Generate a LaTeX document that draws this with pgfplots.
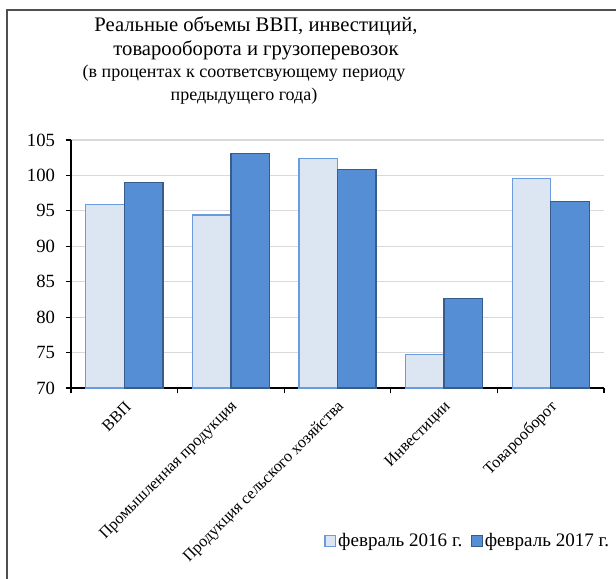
\documentclass[border=0pt]{standalone}
\usepackage{pgfplots}
\pgfplotsset{compat=1.18}
\usepackage{fontspec}
\setmainfont{Liberation Serif}
\definecolor{lightfill}{RGB}{220,230,242}
\definecolor{lightedge}{RGB}{106,155,222}
\definecolor{darkfill}{RGB}{85,142,213}
\definecolor{darkedge}{RGB}{56,93,138}
\definecolor{gridgray}{RGB}{217,217,217}
\definecolor{framegray}{RGB}{80,80,80}
\begin{document}
\begin{tikzpicture}
\useasboundingbox (0,0) rectangle (462pt,433.5pt);
\clip (0,0) rectangle (462pt,433.5pt);
\draw[framegray, line width=0.8pt] (5.25pt,-10pt) -- (5.25pt,426pt) -- (480pt,426pt);
\node[font=\fontsize{15.5}{18}\selectfont, anchor=base, inner sep=0pt] at (192pt,410pt) {Реальные объемы ВВП, инвестиций,};
\node[font=\fontsize{15.5}{18}\selectfont, anchor=base, inner sep=0pt] at (192pt,391.5pt) {товарооборота и грузоперевозок};
\node[font=\fontsize{13.5}{16}\selectfont, anchor=base, inner sep=0pt] at (183pt,375pt) {(в процентах к соответсвующему периоду};
\node[font=\fontsize{13.5}{16}\selectfont, anchor=base, inner sep=0pt] at (183pt,358pt) {предыдущего года)};
\begin{axis}[
  at={(53.25pt,142.5pt)}, anchor=south west,
  width=399.75pt, height=186pt, scale only axis,
  ybar=0pt, bar width=28.9pt,
  xmin=-0.5, xmax=4.5,
  ymin=70, ymax=105,
  ytick={70,75,...,105},
  yticklabel={\pgfmathprintnumber{\tick}\hspace*{4.5pt}},
  xtick={-0.5,0.5,...,4.5}, xticklabels={},
  extra x ticks={0,1,2,3,4},
  extra x tick labels={ВВП,Промышленная продукция,Продукция сельского хозяйства,Инвестиции,Товарооборот},
  extra x tick style={major tick length=0pt, grid=none,
    xticklabel style={rotate=45, anchor=east, font=\fontsize{12.2}{14}\selectfont, xshift=-3.3pt, yshift=-11pt}},
  axis x line*=bottom, axis y line*=left,
  axis line style={black, line width=1.5pt},
  tick align=outside, major tick length=4pt,
  tick style={black, line width=0.8pt},
  ymajorgrids, grid style={gridgray, line width=0.8pt},
  yticklabel style={font=\fontsize{14}{16}\selectfont},
  /pgf/number format/assume math mode=true,
  legend columns=2,
  legend style={draw=none, fill=none, at={(0.475,-0.617)}, anchor=west, inner sep=0pt,
    nodes={inner sep=1.5pt},
    font=\fontsize{14.3}{16}\selectfont, /tikz/every even column/.append style={column sep=5pt}},
  legend image code/.code={\draw[#1, line width=0.8pt] (0pt,-3.8pt) rectangle (8pt,3.8pt);},
  legend cell align=left,
]
\addplot[fill=lightfill, draw=lightedge, line width=1pt] coordinates {(0,95.9) (1,94.4) (2,102.4) (3,74.7) (4,99.6)};
\addplot[fill=darkfill, draw=darkedge, line width=1pt] coordinates {(0,99.0) (1,103.1) (2,100.8) (3,82.6) (4,96.3)};
\legend{февраль 2016 г.,февраль 2017 г.}
\end{axis}
\end{tikzpicture}
\end{document}
